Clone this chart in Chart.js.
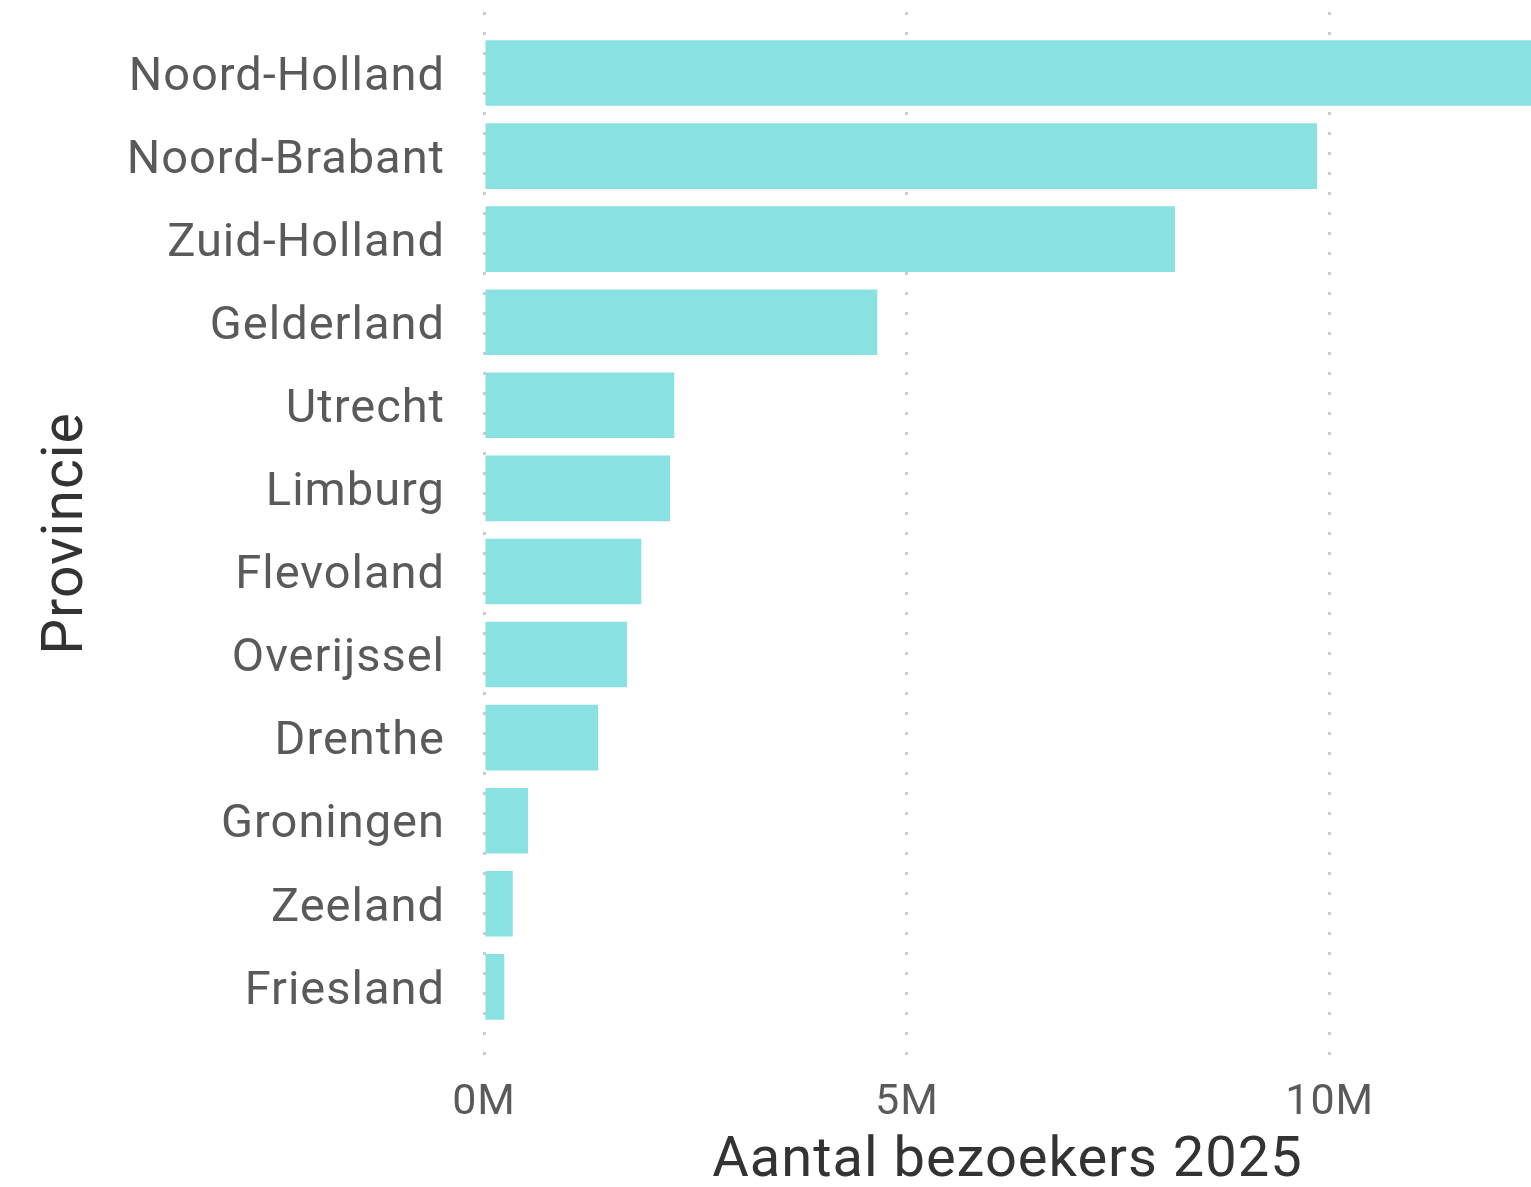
<!DOCTYPE html>
<html>
<head>
<meta charset="utf-8">
<script src="https://cdn.jsdelivr.net/npm/chart.js@4/dist/chart.umd.min.js"></script>
<style>
html,body{margin:0;padding:0;background:#fff;}
#wrap{width:1531px;height:1187px;}
</style>
</head>
<body>
<div id="wrap"><canvas id="c" width="1531" height="1187"></canvas></div>
<script>
const provinces = ["Noord-Holland","Noord-Brabant","Zuid-Holland","Gelderland","Utrecht","Limburg","Flevoland","Overijssel","Drenthe","Groningen","Zeeland","Friesland"];
const visitors = [12400000, 9850000, 8170000, 4650000, 2250000, 2200000, 1860000, 1690000, 1350000, 520000, 340000, 240000];
const xTickValues = [0, 5000000, 10000000];
const xTitle = "Aantal bezoekers 2025";
const yTitle = "Provincie";

const FONT = "Roboto";
const points = visitors.map((v, i) => ({x: v, y: i}));

const spacingPlugin = {
  id: 'spacing',
  beforeLayout(chart) { chart.ctx.letterSpacing = '1px'; },
  beforeDraw(chart) { chart.ctx.letterSpacing = '1px'; }
};

new Chart(document.getElementById('c'), {
  type: 'bar',
  data: {
    datasets: [{
      data: points,
      backgroundColor: '#8AE1E1',
      borderWidth: 0,
      barPercentage: 0.79,
      categoryPercentage: 1.0
    }]
  },
  plugins: [spacingPlugin],
  options: {
    indexAxis: 'y',
    responsive: false,
    animation: false,
    layout: {padding: {top: 12, right: 0, left: 0, bottom: 0}},
    plugins: {legend: {display: false}, tooltip: {enabled: false}},
    scales: {
      x: {
        type: 'linear',
        bounds: 'data',
        min: 0,
        max: 12380000,
        afterBuildTicks: s => { s.ticks = xTickValues.map(v => ({value: v})); },
        afterFit: s => { s.height = 132; s.paddingLeft = 0; s.paddingRight = 0; },
        grid: {color: '#cccccc', lineWidth: 3, drawTicks: false},
        border: {display: false, dash: [3, 17]},
        ticks: {
          padding: 22,
          color: '#5a5a5a',
          font: {family: FONT, size: 43},
          callback: v => (v / 1000000) + 'M'
        },
        title: {display: true, text: xTitle, color: '#333333', font: {family: FONT, size: 56, lineHeight: 0.9}, padding: {top: 0, bottom: 0}}
      },
      y: {
        type: 'linear',
        bounds: 'data',
        offset: false,
        reverse: true,
        min: -0.734,
        max: 11.82,
        afterBuildTicks: s => { s.ticks = provinces.map((p, i) => ({value: i})); },
        afterFit: s => { s.width = 484; s.paddingTop = 0; s.paddingBottom = 0; },
        grid: {display: false, drawTicks: false, offset: false},
        border: {display: false},
        ticks: {
          autoSkip: false,
          padding: 39,
          labelOffset: 5,
          color: '#5a5a5a',
          font: {family: FONT, size: 47},
          callback: v => provinces[v]
        },
        title: {display: true, text: yTitle, color: '#333333', font: {family: FONT, size: 57}, padding: {top: 34, bottom: 0}}
      }
    }
  }
});
</script>
</body>
</html>
